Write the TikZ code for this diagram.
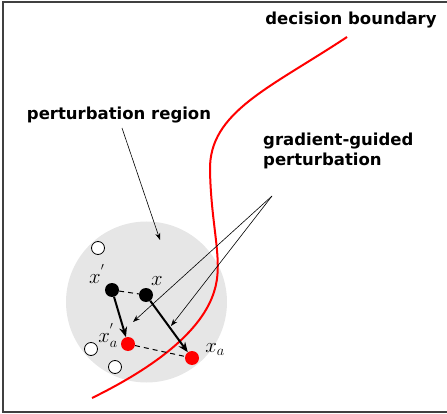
\documentclass[tikz,border=0pt]{standalone}
\usepackage{fontspec}
\usepackage{tikz}
\newfontfamily\notefont{DejaVu Sans}
\definecolor{regiongray}{HTML}{E6E6E6}
\definecolor{boundred}{HTML}{FF0000}
\definecolor{framegray}{HTML}{404040}
\tikzset{
  sample/.style={circle,fill=black,inner sep=0pt,minimum size=14pt},
  adversarial/.style={circle,fill=boundred,inner sep=0pt,minimum size=14pt},
  other/.style={circle,draw=black,fill=white,line width=0.8pt,inner sep=0pt,minimum size=13pt},
  pair/.style={draw=black,dashed,line width=1pt,dash pattern=on 5pt off 4pt},
  step arrow/.style={draw=black,line width=2pt,-{Stealth[length=10pt,width=8pt]}},
  pointer/.style={draw=black,line width=0.6pt,-{Stealth[length=7pt,width=5pt]}},
  boundary/.style={draw=boundred,line width=2pt},
  note/.style={font=\notefont\bfseries\fontsize{16.5}{20}\selectfont,inner sep=0pt},
  mathlabel/.style={font=\fontsize{22}{26}\selectfont,inner sep=0pt,anchor=base}
}
\usetikzlibrary{arrows.meta}

\begin{document}
\begin{tikzpicture}[x=1pt,y=-1pt]
  \useasboundingbox (0,0) rectangle (447,414);
  \draw[framegray,line width=1.5pt] (3,2) rectangle (452,412);
  \fill[regiongray] (146.5,302) circle (80.5);
  \draw[boundary] (347,37) .. controls (270,88) and (209,112) .. (210,170)
    .. controls (211,228) and (224,262) .. (214,292)
    .. controls (200,336) and (145,372) .. (92,398);
  \node[other] (o1) at (98,248) {};
  \node[other] (o2) at (91,349) {};
  \node[other] (o3) at (115,367) {};
  \node[sample] (xp) at (112,290) {};
  \node[sample] (x) at (146,295) {};
  \node[adversarial] (xpa) at (128,344) {};
  \node[adversarial] (xa) at (192,358) {};
  \draw[pair] (xp) -- (x);
  \draw[pair] (xpa) -- (xa);
  \draw[step arrow] (xp) -- (xpa);
  \draw[step arrow] (x) -- (xa);
  \node[mathlabel] (lxp) at (97,283) {$x^{'}$};
  \node[mathlabel] (lx) at (157,285) {$x$};
  \node[mathlabel] (lxpa) at (108,342) {$x^{'}_a$};
  \node[mathlabel] (lxa) at (215,352) {$x_a$};
  \node[note,anchor=base] (db) at (351,25) {decision boundary};
  \node[note,anchor=base] (pr) at (119,120) {perturbation region};
  \node[note,anchor=base west,align=left] (gg) at (263,166) {gradient-guided\\perturbation};
  \coordinate (prfoot) at (122,128);
  \coordinate (prtip) at (160,240);
  \coordinate (ggfoot) at (272,196);
  \coordinate (ggtip1) at (133,322);
  \coordinate (ggtip2) at (171,326);
  \draw[pointer] (prfoot) -- (prtip);
  \draw[pointer] (ggfoot) -- (ggtip1);
  \draw[pointer] (ggfoot) -- (ggtip2);
\end{tikzpicture}
\end{document}
